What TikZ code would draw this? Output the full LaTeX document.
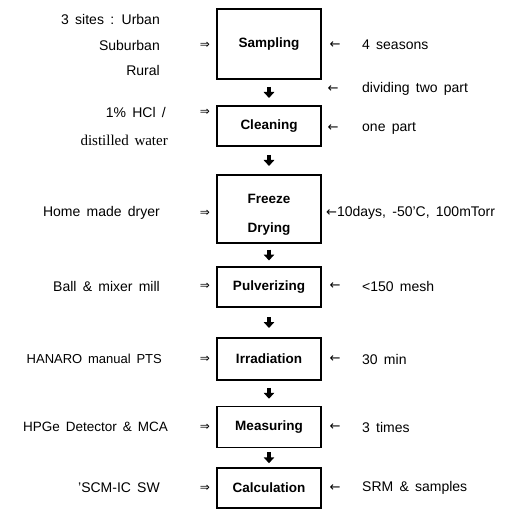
\documentclass[tikz,border=0pt]{standalone}
\usepackage{fontspec}
\setmainfont{Liberation Sans}[WordSpace=1.6]
\newfontfamily\serifl{Liberation Serif}[WordSpace=1.5]
\newfontfamily\symf{DejaVu Sans}
\usetikzlibrary{arrows.meta,calc}
\tikzset{
  stepbox/.style={draw, line width=1.3pt, minimum width=104pt, inner sep=0pt,
    font=\fontsize{13.5}{18}\selectfont\bfseries, align=center},
  lbl/.style={inner sep=0pt, anchor=east, font=\fontsize{14}{16}\selectfont},
  rlbl/.style={inner sep=0pt, anchor=west, font=\fontsize{14}{16}\selectfont},
  dbl/.style={inner sep=0pt, font=\symf\fontsize{12}{13}\selectfont},
  larr/.style={inner sep=0pt, font=\symf\fontsize{13}{14}\selectfont},
  fat/.style={line width=4pt, -{Triangle[width=10.5pt,length=6pt]}}
}
\begin{document}
\begin{tikzpicture}[x=1pt,y=-1pt]
\useasboundingbox (0,0) rectangle (512,518);
% boxes
\node[stepbox, minimum height=70pt] (samp) at (269,44) {Sampling};
\node[stepbox, minimum height=40pt] (clean) at (269,126) {Cleaning};
\node[stepbox, minimum height=68pt] (freeze) at (269,209) {\begin{tabular}{@{}c@{}}\rule{0pt}{24pt}Freeze\\[11pt]Drying\end{tabular}};
\node[stepbox, minimum height=40pt] (pulv) at (269,287) {Pulverizing};
\node[stepbox, minimum height=42pt] (irr) at (269,359) {Irradiation};
\node[stepbox, minimum height=41pt] (meas) at (269,427) {Measuring};
\node[stepbox, minimum height=40pt] (calc) at (269,488) {Calculation};
% fat arrows
\foreach \a/\b in {samp/clean, clean/freeze, freeze/pulv, pulv/irr, irr/meas, meas/calc}
  \draw[fat] ($(\a.south)!0.5!(\b.north)+(0,-5.5)$) -- ($(\a.south)!0.5!(\b.north)+(0,5.5)$);
% left labels
\node[lbl] (l1a) at (160,20) {3 sites : Urban};
\node[lbl] (l1b) at (160,45) {Suburban};
\node[lbl] (l1c) at (160,70) {Rural};
\node[lbl] (l2a) at (166,112) {1\% HCl /};
\node[lbl, font=\serifl\fontsize{15}{16}\selectfont] (l2b) at (168,140) {distilled water};
\node[lbl] (l3) at (160,213) {Home made dryer};
\node[lbl] (l4) at (160,286) {Ball \& mixer mill};
\node[lbl, font=\fontsize{13}{14}\selectfont] (l5) at (162,359) {HANARO manual PTS};
\node[lbl, font=\fontsize{13.5}{14}\selectfont] (l6) at (168,427) {HPGe Detector \& MCA};
\node[lbl] (l7) at (160,488) {'SCM-IC SW};
% double arrows
\node[dbl] (d1) at (205,45) {⇒};
\node[dbl] (d2) at (205,112) {⇒};
\node[dbl] (d3) at (205,213) {⇒};
\node[dbl] (d4) at (205,286) {⇒};
\node[dbl] (d5) at (205,359) {⇒};
\node[dbl] (d6) at (205,427) {⇒};
\node[dbl] (d7) at (205,488) {⇒};
% right arrows
\node[larr] (r1) at (335,45) {←};
\node[larr] (r2) at (333,89) {←};
\node[larr] (r3) at (333,128) {←};
\node[larr] (r5) at (335,286) {←};
\node[larr] (r6) at (335,359) {←};
\node[larr] (r7) at (335,427) {←};
\node[larr] (r8) at (335,488) {←};
% right labels
\node[rlbl] (t1) at (362,45) {4 seasons};
\node[rlbl] (t2) at (362,89) {dividing two part};
\node[rlbl] (t3) at (362,128) {one part};
\node[rlbl] (t4) at (326,213) {{\symf\fontsize{13}{14}\selectfont ←}10days, -50'C, 100mTorr};
\node[rlbl] (t5) at (362,286) {<150 mesh};
\node[rlbl] (t6) at (362,359) {30 min};
\node[rlbl] (t7) at (362,427) {3 times};
\node[rlbl] (t8) at (362,488) {SRM \& samples};
\end{tikzpicture}
\end{document}
